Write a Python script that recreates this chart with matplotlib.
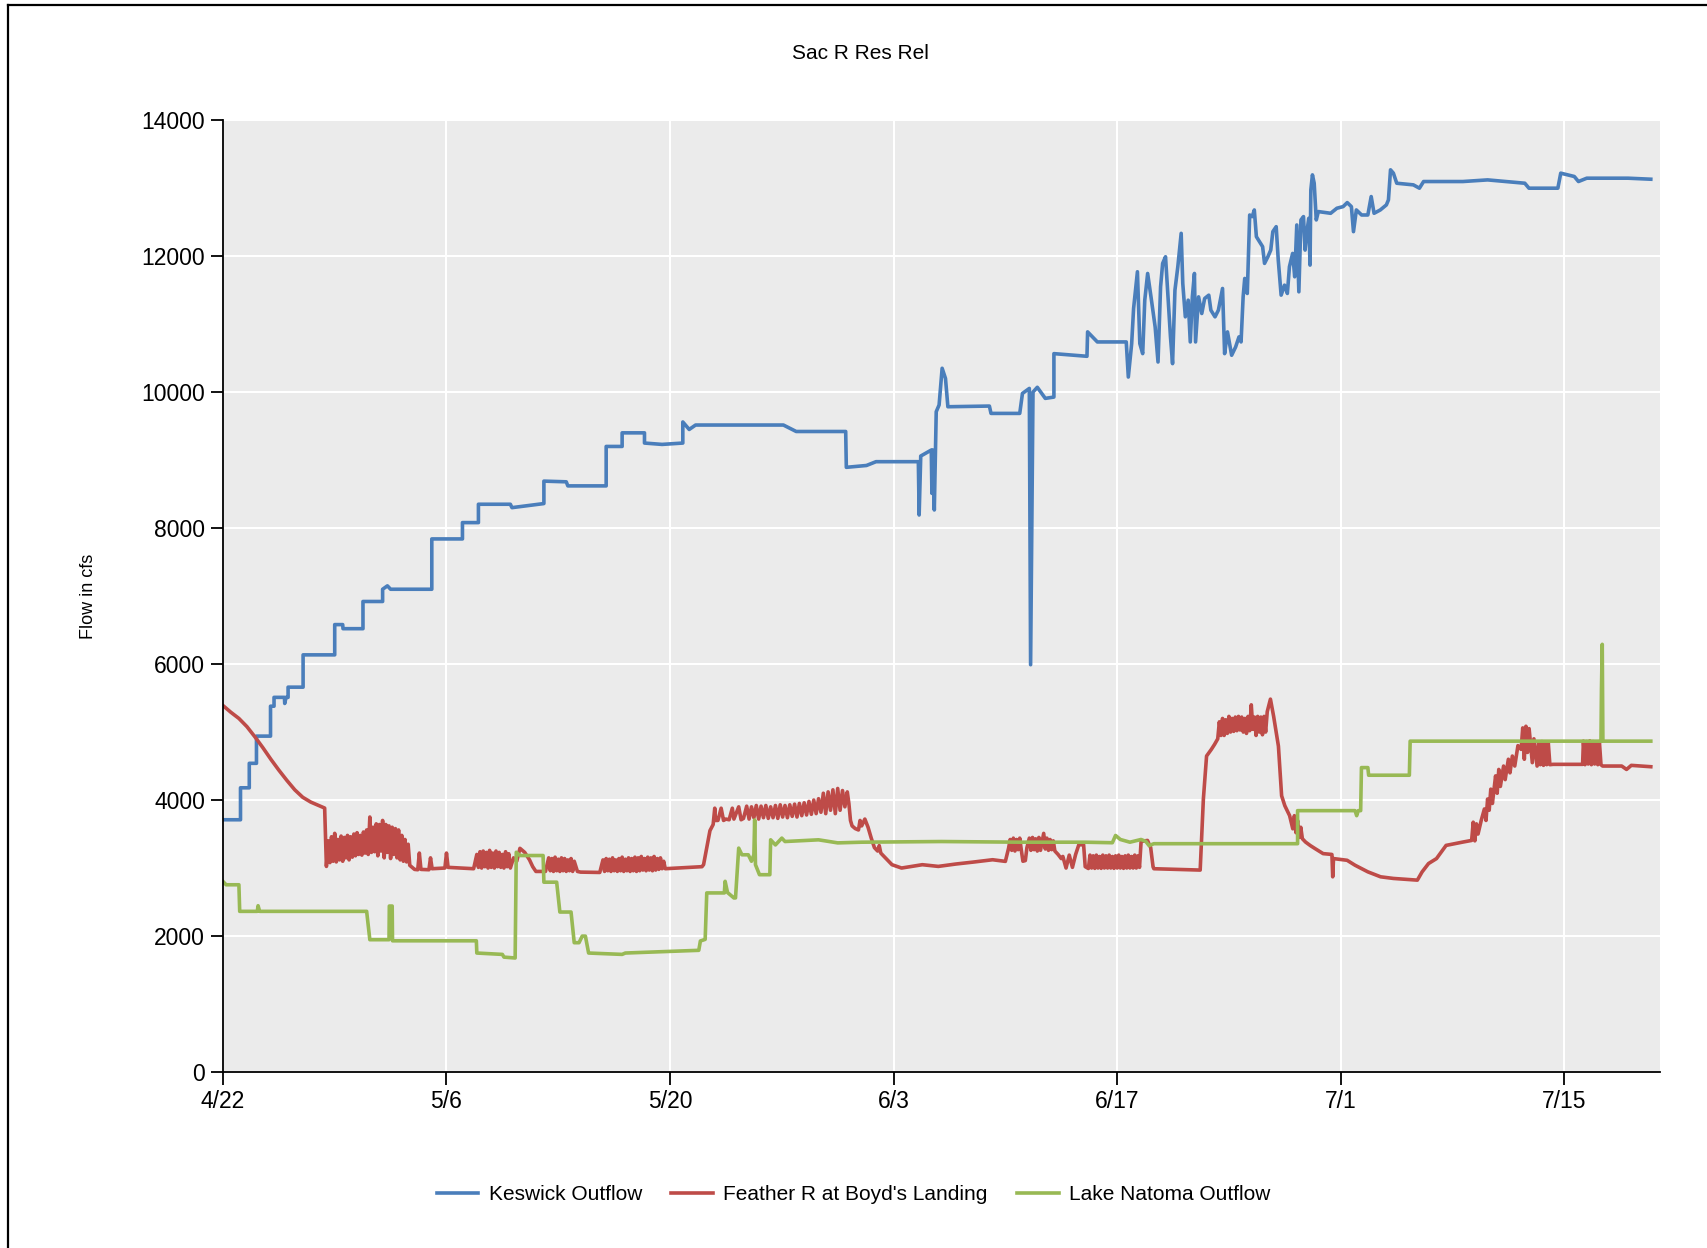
import matplotlib
matplotlib.use("Agg")
import matplotlib.pyplot as plt
from matplotlib.lines import Line2D

plt.rcParams['font.family'] = ['Liberation Sans', 'DejaVu Sans']

title = "Sac R Res Rel"
ylabel = "Flow in cfs"
series_names = ["Keswick Outflow", "Feather R at Boyd's Landing", "Lake Natoma Outflow"]
tick_days = [0, 14, 28, 42, 56, 70, 84]
tick_labels = ["4/22", "5/6", "5/20", "6/3", "6/17", "7/1", "7/15"]
y_ticks = [0, 2000, 4000, 6000, 8000, 10000, 12000, 14000]

# (days since 4/22, flow in cfs)
keswick = [
    (0.0, 3710), (1.1, 3710), (1.1, 4180), (1.65, 4180), (1.65, 4540), (2.1, 4540),
    (2.1, 4940), (2.98, 4940), (2.98, 5380), (3.2, 5380), (3.2, 5510), (3.85, 5510),
    (3.87, 5420), (3.95, 5510), (4.08, 5510), (4.08, 5660), (5.02, 5660), (5.02, 6135),
    (7.0, 6135), (7.0, 6580), (7.5, 6580), (7.52, 6520), (8.77, 6520), (8.77, 6920),
    (10.0, 6920), (10.0, 7100), (10.3, 7150), (10.5, 7100), (13.08, 7100), (13.08, 7840),
    (15.0, 7840), (15.0, 8080), (16.0, 8080), (16.0, 8350), (18.0, 8350), (18.1, 8300),
    (20.1, 8360), (20.1, 8690), (21.5, 8680), (21.6, 8620), (24.0, 8620), (24.0, 9200),
    (25.0, 9200), (25.0, 9400), (26.4, 9400), (26.4, 9250), (27.5, 9230), (28.8, 9250),
    (28.8, 9560), (29.2, 9450), (29.6, 9515), (35.1, 9515), (35.9, 9420), (39.0, 9420),
    (39.04, 8893), (40.3, 8920), (40.9, 8976), (43.55, 8976), (43.6, 8192), (43.7, 9059),
    (44.36, 9147), (44.4, 8510), (44.45, 9147), (44.55, 8266), (44.67, 9711), (44.85, 9810),
    (45.04, 10350), (45.25, 10200), (45.4, 9784), (48.0, 9794), (48.1, 9686), (49.9, 9686),
    (50.07, 9980), (50.5, 10053), (50.58, 5990), (50.73, 10000), (51.0, 10070), (51.5, 9907),
    (52.04, 9926), (52.04, 10565), (54.11, 10526), (54.15, 10885), (54.76, 10737),
    (56.57, 10737), (56.70, 10221), (56.91, 10713), (57.03, 11229), (57.27, 11769),
    (57.42, 10713), (57.60, 10565), (57.73, 11351), (57.91, 11744), (58.12, 11400),
    (58.38, 10958), (58.56, 10442), (58.72, 11548), (58.85, 11892), (59.03, 11990),
    (59.16, 11499), (59.34, 10811), (59.47, 10418), (59.62, 11499), (59.80, 11843),
    (60.01, 12334), (60.11, 11597), (60.27, 11106), (60.45, 11351), (60.58, 10737),
    (60.71, 11400), (60.84, 11744), (60.91, 10737), (61.10, 11400), (61.30, 11155),
    (61.48, 11376), (61.74, 11425), (61.87, 11204), (62.13, 11106), (62.34, 11204),
    (62.60, 11523), (62.73, 10565), (62.91, 10885), (63.17, 10541), (63.42, 10663),
    (63.63, 10811), (63.76, 10737), (63.89, 11400), (63.99, 11671), (64.15, 11450),
    (64.30, 12604), (64.46, 12580), (64.59, 12678), (64.72, 12285), (64.92, 12211),
    (65.11, 12138), (65.23, 11892), (65.44, 11990), (65.62, 12088), (65.75, 12359),
    (65.96, 12432), (66.09, 11941), (66.27, 11425), (66.48, 11572), (66.66, 11450),
    (66.79, 11843), (66.99, 12039), (67.12, 11695), (67.25, 12457), (67.38, 11474),
    (67.51, 12531), (67.67, 12580), (67.77, 12088), (67.87, 12334), (68.00, 12555),
    (68.08, 11867), (68.13, 12973), (68.23, 13194), (68.34, 13071), (68.47, 12531),
    (68.60, 12654), (69.37, 12629), (69.76, 12703), (70.15, 12727), (70.41, 12786),
    (70.67, 12727), (70.80, 12359), (70.98, 12678), (71.31, 12604), (71.70, 12604),
    (71.91, 12875), (72.09, 12629), (72.48, 12678), (72.86, 12752), (72.99, 12826),
    (73.12, 13268), (73.30, 13219), (73.51, 13071), (74.55, 13047), (74.93, 12998),
    (75.19, 13096), (77.65, 13096), (79.20, 13120), (81.53, 13071), (81.79, 12998),
    (83.60, 12998), (83.78, 13219), (84.63, 13170), (84.89, 13096), (85.41, 13145),
    (88.00, 13145), (89.42, 13130),
]

feather = [
    (0.0, 5390), (0.5, 5290), (1.0, 5200), (1.5, 5080), (2.0, 4930), (2.5, 4770),
    (3.0, 4600), (3.5, 4440), (4.0, 4290), (4.5, 4150), (5.0, 4040), (5.5, 3970),
    (6.0, 3920), (6.37, 3882), (6.48, 3024),
    (6.6, 3400), (6.7, 3080), (6.8, 3460), (6.9, 3100), (7.0, 3510), (7.1, 3090),
    (7.2, 3420), (7.3, 3120), (7.4, 3470), (7.5, 3100), (7.6, 3450), (7.7, 3150),
    (7.8, 3480), (7.9, 3120), (8.0, 3460), (8.1, 3160), (8.2, 3500), (8.3, 3180),
    (8.4, 3520), (8.5, 3200), (8.6, 3480), (8.7, 3190), (8.8, 3530), (8.9, 3220),
    (9.0, 3560), (9.1, 3200), (9.2, 3750), (9.3, 3230), (9.4, 3600), (9.5, 3240),
    (9.6, 3650), (9.7, 3180), (9.8, 3640), (9.9, 3250), (10.0, 3700), (10.1, 3150),
    (10.2, 3640), (10.3, 3230), (10.4, 3620), (10.5, 3140), (10.6, 3600), (10.7, 3200),
    (10.8, 3580), (10.9, 3150), (11.0, 3560), (11.1, 3120), (11.2, 3480), (11.3, 3100),
    (11.4, 3420), (11.5, 3090), (11.6, 3350), (11.7, 3040), (12.0, 2980), (12.2, 2975),
    (12.3, 3220), (12.4, 2980), (12.9, 2975), (13.0, 3150), (13.1, 2990), (13.9, 3000),
    (14.0, 3220), (14.1, 3010), (15.7, 2990), (15.9, 3200), (16.0, 3010), (16.1, 3240),
    (16.2, 3000), (16.3, 3250), (16.4, 3020), (16.5, 3230), (16.6, 3000), (16.7, 3260),
    (16.8, 3010), (16.9, 3220), (17.0, 3000), (17.1, 3250), (17.2, 3020), (17.3, 3230),
    (17.4, 3010), (17.5, 3200), (17.6, 3000), (17.7, 3240), (17.8, 3020), (17.9, 3210),
    (18.0, 3000), (18.2, 3150), (18.4, 3100), (18.6, 3290), (18.9, 3230), (19.2, 3120),
    (19.4, 3020), (19.6, 2950), (20.2, 2950), (20.4, 3150), (20.5, 2960), (20.6, 3140),
    (20.7, 2950), (20.8, 3160), (20.9, 2960), (21.0, 3130), (21.1, 2950), (21.2, 3150),
    (21.3, 2960), (21.4, 3140), (21.5, 2950), (21.6, 3120), (21.7, 2960), (21.8, 3140),
    (21.9, 2950), (22.0, 3100), (22.2, 2950), (22.4, 2940), (23.6, 2935), (23.8, 3120),
    (23.9, 2950), (24.0, 3140), (24.1, 2960), (24.2, 3130), (24.3, 2950), (24.4, 3150),
    (24.5, 2960), (24.6, 3120), (24.7, 2950), (24.8, 3140), (24.9, 2960), (25.0, 3160),
    (25.1, 2950), (25.2, 3130), (25.3, 2960), (25.4, 3150), (25.5, 2950), (25.6, 3140),
    (25.7, 2960), (25.8, 3160), (25.9, 2950), (26.0, 3150), (26.1, 2960), (26.2, 3170),
    (26.3, 2970), (26.4, 3140), (26.5, 2960), (26.6, 3160), (26.7, 2970), (26.8, 3150),
    (26.9, 2960), (27.0, 3170), (27.1, 2970), (27.2, 3140), (27.3, 2980), (27.4, 3150),
    (27.5, 2990), (27.6, 3100), (27.7, 2990), (30.0, 3020), (30.1, 3050), (30.3, 3300),
    (30.5, 3550), (30.7, 3640), (30.8, 3880), (30.85, 3700), (31.0, 3700), (31.2, 3880),
    (31.35, 3700), (31.5, 3720), (31.7, 3710), (31.9, 3880), (32.0, 3720), (32.3, 3900),
    (32.45, 3710), (32.6, 3730), (32.8, 3910), (32.95, 3720), (33.1, 3900), (33.25, 3740),
    (33.4, 3920), (33.55, 3720), (33.7, 3910), (33.85, 3740), (34.0, 3920), (34.15, 3730),
    (34.3, 3900), (34.45, 3740), (34.6, 3920), (34.75, 3730), (34.9, 3930), (35.05, 3750),
    (35.2, 3920), (35.35, 3740), (35.5, 3930), (35.65, 3760), (35.8, 3940), (35.95, 3750),
    (36.1, 3950), (36.25, 3770), (36.4, 3960), (36.55, 3780), (36.7, 3980), (36.85, 3790),
    (37.0, 4000), (37.15, 3800), (37.3, 4020), (37.45, 3820), (37.6, 4100), (37.75, 3800),
    (37.9, 4120), (38.05, 3850), (38.2, 4150), (38.35, 3800), (38.5, 4170), (38.65, 3850),
    (38.8, 4140), (38.95, 3900), (39.1, 4120), (39.2, 3950), (39.3, 3700), (39.4, 3620),
    (39.6, 3580), (39.8, 3560), (39.9, 3700), (40.0, 3620), (40.2, 3720), (40.4, 3600),
    (40.6, 3440), (40.8, 3300), (41.0, 3250), (41.1, 3330), (41.2, 3220), (41.3, 3195),
    (41.9, 3049), (42.5, 3000), (43.8, 3049), (44.8, 3024), (45.9, 3059), (47.0, 3088),
    (48.2, 3122), (49.0, 3098), (49.2, 3290), (49.3, 3420), (49.4, 3260), (49.5, 3440),
    (49.6, 3250), (49.7, 3420), (49.8, 3270), (49.9, 3440), (50.0, 3260), (50.1, 3100),
    (50.25, 3110), (50.35, 3300), (50.5, 3440), (50.6, 3260), (50.7, 3450), (50.8, 3270),
    (50.9, 3430), (51.0, 3250), (51.1, 3450), (51.2, 3260), (51.4, 3510), (51.5, 3280),
    (51.6, 3440), (51.7, 3260), (51.8, 3420), (51.9, 3270), (52.0, 3400), (52.1, 3250),
    (52.3, 3200), (52.5, 3139), (52.6, 3170), (52.8, 3000), (53.0, 3190), (53.2, 3010),
    (53.4, 3200), (53.6, 3342), (53.9, 3342), (54.0, 3020), (54.2, 2993), (54.3, 3190),
    (54.4, 3000), (54.5, 3180), (54.6, 2995), (54.7, 3190), (54.8, 3000), (54.9, 3170),
    (55.0, 2995), (55.1, 3190), (55.2, 3000), (55.3, 3180), (55.4, 3000), (55.5, 3190),
    (55.6, 3000), (55.7, 3170), (55.8, 2995), (55.9, 3180), (56.0, 3000), (56.1, 3190),
    (56.2, 3000), (56.3, 3170), (56.4, 2995), (56.5, 3180), (56.6, 3000), (56.7, 3190),
    (56.8, 3000), (56.9, 3170), (57.0, 3000), (57.1, 3190), (57.2, 3000), (57.3, 3180),
    (57.4, 3010), (57.5, 3390), (57.9, 3406), (58.1, 3300), (58.25, 3017), (58.3, 2990),
    (61.2, 2970), (61.4, 4015), (61.6, 4647), (61.9, 4745), (62.1, 4818), (62.3, 4900),
    (62.4, 5150), (62.5, 4950), (62.6, 5200), (62.7, 4950), (62.8, 5180), (62.9, 4980),
    (63.0, 5230), (63.1, 5000), (63.2, 5200), (63.3, 5010), (63.4, 5220), (63.5, 5020),
    (63.6, 5230), (63.7, 5030), (63.8, 5220), (63.9, 5000), (64.0, 5200), (64.1, 4980),
    (64.2, 5230), (64.3, 5020), (64.4, 5400), (64.5, 5040), (64.6, 5220), (64.7, 4950),
    (64.8, 5230), (64.9, 5000), (65.0, 5220), (65.1, 4960), (65.2, 5230), (65.3, 5000),
    (65.4, 5300), (65.6, 5484), (65.8, 5231), (66.1, 4793), (66.3, 4063), (66.5, 3917),
    (66.8, 3771), (67.0, 3577), (67.1, 3770), (67.2, 3520), (67.3, 3700), (67.4, 3450),
    (67.5, 3600), (67.6, 3431), (67.8, 3382), (68.1, 3330), (68.4, 3285), (68.9, 3212),
    (69.45, 3200), (69.5, 2871), (69.55, 3139), (70.4, 3114), (70.9, 3041), (71.7, 2944),
    (72.5, 2871), (73.3, 2847), (74.8, 2822), (75.1, 2944), (75.5, 3066), (76.0, 3139),
    (76.6, 3333), (77.65, 3382), (78.2, 3406), (78.3, 3674), (78.4, 3400), (78.5, 3650),
    (78.6, 3500), (78.8, 3700), (79.0, 3869), (79.1, 3700), (79.2, 4015), (79.3, 3850),
    (79.4, 4160), (79.5, 3950), (79.7, 4355), (79.8, 4100), (79.9, 4450), (80.0, 4200),
    (80.2, 4500), (80.3, 4300), (80.5, 4600), (80.6, 4400), (80.75, 4647), (80.9, 4500),
    (81.1, 4800), (81.3, 4745), (81.4, 5061), (81.5, 4600), (81.6, 5085), (81.7, 4700),
    (81.8, 5050), (82.0, 4550), (82.1, 4900), (82.3, 4500), (82.4, 4850), (82.5, 4520),
    (82.6, 4860), (82.7, 4510), (82.8, 4850), (82.9, 4520), (83.0, 4840), (83.1, 4520),
    (83.3, 4525), (85.15, 4525), (85.2, 4866), (85.3, 4520), (85.4, 4860), (85.5, 4530),
    (85.6, 4870), (85.7, 4520), (85.8, 4860), (85.9, 4530), (86.0, 4850), (86.1, 4520),
    (86.2, 4860), (86.3, 4520), (86.4, 4500), (87.6, 4500), (87.9, 4450), (88.2, 4510),
    (89.42, 4490),
]

natoma = [
    (0.0, 2803), (0.2, 2754), (1.0, 2754), (1.05, 2363), (2.15, 2363), (2.2, 2446),
    (2.3, 2363), (9.0, 2363), (9.2, 1946), (10.4, 1946), (10.42, 2441), (10.6, 2441),
    (10.62, 1930), (15.87, 1930), (15.9, 1750), (17.5, 1730), (17.6, 1690), (18.3, 1677),
    (18.37, 3232), (18.6, 3184), (20.05, 3184), (20.1, 2792), (20.9, 2792), (21.1, 2353),
    (21.8, 2353), (22.0, 1902), (22.3, 1902), (22.5, 1999), (22.7, 1999), (22.9, 1750),
    (25.0, 1730), (25.2, 1750), (29.8, 1790), (29.9, 1927), (30.2, 1951), (30.3, 2634),
    (31.4, 2634), (31.45, 2805), (31.6, 2640), (32.0, 2560), (32.1, 2561), (32.3, 3293),
    (32.5, 3195), (32.9, 3195), (33.1, 3100), (33.25, 3195), (33.3, 3707), (33.35, 3049),
    (33.6, 2902), (34.25, 2902), (34.3, 3415), (34.6, 3340), (35.0, 3440), (35.2, 3390),
    (37.3, 3415), (38.5, 3370), (40.0, 3380), (45.0, 3390), (50.0, 3380), (54.0, 3380),
    (55.7, 3372), (55.9, 3479), (56.2, 3420), (56.8, 3380), (57.5, 3420), (57.8, 3390),
    (58.0, 3330), (58.3, 3358), (67.3, 3358), (67.3, 3844), (70.9, 3844), (71.0, 3770),
    (71.1, 3844), (71.25, 3844), (71.3, 4477), (71.7, 4477), (71.75, 4365), (74.3, 4365),
    (74.35, 4866), (86.3, 4866), (86.33, 5620), (86.38, 6290), (86.42, 4866), (89.42, 4866),
]

colors = ["#4A7EBB", "#BE4B48", "#98B954"]

fig = plt.figure(figsize=(17.07, 12.48), dpi=100)
ax = fig.add_axes([0.1306, 0.141, 0.9725 - 0.1306, 0.9038 - 0.141])
ax.set_facecolor("#EBEBEB")

for data, name, col in zip([keswick, feather, natoma], series_names, colors):
    d, v = zip(*data)
    ax.plot(d, v, color=col, lw=2.6, label=name)

ax.set_xlim(0, 90)
ax.set_ylim(0, 14000)
ax.set_xticks(tick_days)
ax.set_xticklabels(tick_labels)
ax.set_yticks(y_ticks)
ax.grid(True, color="white", lw=1.5)
ax.set_axisbelow(True)
for s in ["top", "right"]:
    ax.spines[s].set_visible(False)
for s in ["left", "bottom"]:
    ax.spines[s].set_color("black")
    ax.spines[s].set_linewidth(1.3)
ax.tick_params(direction="out", length=9, width=1.3, labelsize=16.5, pad=4, colors="black")

fig.text(0.504, 0.957, title, ha="center", va="center", fontsize=15)
fig.text(0.052, 0.5225, ylabel, ha="center", va="center", rotation=90, fontsize=13)

fig.legend(loc="center", bbox_to_anchor=(0.5, 0.043), ncol=3, frameon=False,
           fontsize=15, handlelength=2.0, handletextpad=0.5, columnspacing=1.4)

fig.add_artist(Line2D([8 / 1707, 1], [1 - 5 / 1248, 1 - 5 / 1248], color="black", lw=1.6,
                      transform=fig.transFigure))
fig.add_artist(Line2D([8 / 1707, 8 / 1707], [0, 1 - 5 / 1248], color="black", lw=1.6,
                      transform=fig.transFigure))

fig.savefig("out.png", dpi=100, facecolor="white")
